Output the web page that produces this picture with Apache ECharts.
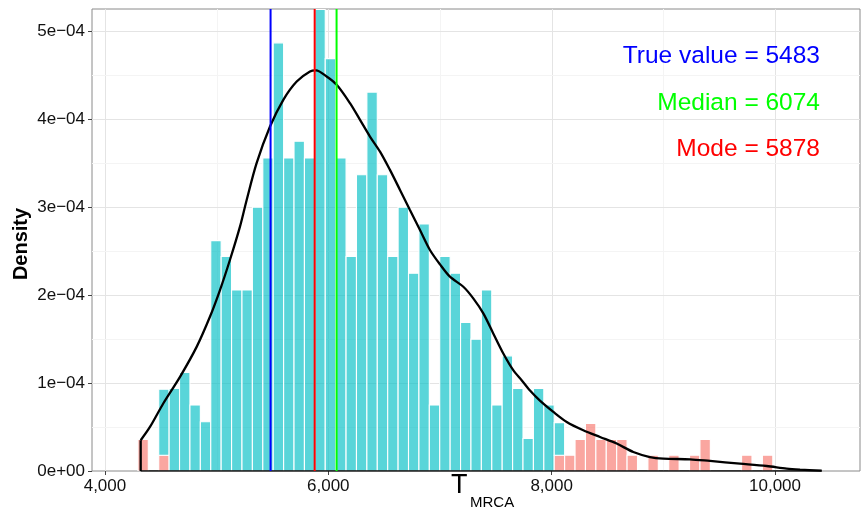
<!DOCTYPE html>
<html><head><meta charset="utf-8">
<script src="https://cdn.jsdelivr.net/npm/echarts@6/dist/echarts.min.js"></script>
<style>html,body{margin:0;padding:0;background:#fff}#c{width:862px;height:519px}</style>
</head><body><div id="c"></div>
<script>
// ---- data ----
const binStart = 4295;
const binWidth = 93.2;
// density of samples inside the interval (cyan), one value per bin
const insideDensity = [0,0,7.5e-5,9.4e-5,1.12e-4,7.5e-5,5.6e-5,2.62e-4,2.44e-4,2.06e-4,
  2.06e-4,3.0e-4,3.56e-4,4.87e-4,3.56e-4,3.75e-4,3.56e-4,5.25e-4,4.69e-4,3.56e-4,
  2.44e-4,3.37e-4,4.31e-4,3.37e-4,2.44e-4,3.0e-4,2.25e-4,2.81e-4,7.5e-5,2.44e-4,
  2.25e-4,1.69e-4,1.5e-4,2.06e-4,7.5e-5,1.31e-4,9.4e-5,3.7e-5,9.4e-5,7.5e-5,
  3.7e-5,0,0,0,0,0,0,0,0,0,0,0,0,0,0,0,0,0,0,0,0];
// density of samples outside the interval (pink), one value per bin
const outsideDensity = [3.6e-5,0,1.8e-5,0,0,0,0,0,0,0,
  0,0,0,0,0,0,0,0,0,0,
  0,0,0,0,0,0,0,0,0,0,
  0,0,0,0,0,0,0,0,0,0,
  1.8e-5,1.8e-5,3.6e-5,5.4e-5,3.6e-5,3.6e-5,3.6e-5,1.8e-5,0,1.8e-5,
  0,1.8e-5,0,1.8e-5,3.6e-5,0,0,0,1.8e-5,0,1.8e-5];
// kernel density curve
const densityX = [4320,4403,4522,4672,4821,4940,5030,5119,5209,5269,5358,5478,5597,5717,5836,5890,5985,6075,6194,6284,6373,6463,6552,6642,6731,6821,6910,7000,7089,7209,7298,7388,7477,7567,7656,7731,7806,7895,8015,8135,8283,8433,8582,8731,8880,9000,9239,9418,9686,9925,10104,10224,10418];
const densityY = [3.50e-5,5.01e-5,7.68e-5,1.071e-4,1.412e-4,1.754e-4,2.058e-4,2.400e-4,2.779e-4,3.083e-4,3.501e-4,3.918e-4,4.222e-4,4.430e-4,4.544e-4,4.556e-4,4.487e-4,4.393e-4,4.184e-4,3.994e-4,3.804e-4,3.633e-4,3.425e-4,3.197e-4,2.969e-4,2.741e-4,2.514e-4,2.35e-4,2.210e-4,2.096e-4,1.964e-4,1.793e-4,1.565e-4,1.337e-4,1.147e-4,1.033e-4,9.15e-5,8.0e-5,6.72e-5,5.58e-5,4.64e-5,3.87e-5,3.12e-5,2.16e-5,1.59e-5,1.41e-5,1.33e-5,1.14e-5,8.4e-6,5.7e-6,2.7e-6,1.6e-6,5e-7];
// reference values
const refNames = ['True value','Median','Mode'];
const refValues = [5483,6074,5878];
const refColors = ['#0000FF','#00FF00','#FF0000'];
// axes
const xMin = 3884, xMax = 10761, yMin = 0, yMax = 5.255e-4;
const xTicks = [4000,6000,8000,10000];
const xTickLabels = ['4,000','6,000','8,000','10,000'];
const xMinorGrid = [5000,7000,9000];
const yTicks = [0,1e-4,2e-4,3e-4,4e-4,5e-4];
const yTickLabels = ['0e+00','1e\u221204','2e\u221204','3e\u221204','4e\u221204','5e\u221204'];
const yMinorGrid = [0.5e-4,1.5e-4,2.5e-4,3.5e-4,4.5e-4];

// ---- build ----
const FONT = '"Liberation Sans", Arial, Helvetica, sans-serif';
const gridData = [];
xTicks.forEach(v => gridData.push([v, 0, 0]));
xMinorGrid.forEach(v => gridData.push([v, 0, 1]));
yTicks.forEach(v => gridData.push([xMin, v, 2]));
yMinorGrid.forEach(v => gridData.push([xMin, v, 3]));

const barData = [];
for (let k = 0; k < insideDensity.length; k++) {
  const x0 = binStart + k * binWidth, x1 = x0 + binWidth;
  const o = outsideDensity[k] || 0, i = insideDensity[k] || 0;
  if (o > 0) barData.push([x0, x1, 0, o, 1]);
  if (i > 0) barData.push([x0, x1, o, o + i, 0]);
}
const curve = densityX.map((x, j) => [x, densityY[j]]);

const chart = echarts.init(document.getElementById('c'), null, {renderer: 'canvas'});
const series = [
  {
    type: 'custom', z: 1, silent: true, clip: true,
    encode: {x: 0, y: 1},
    data: gridData,
    renderItem: function (params, api) {
      const cs = params.coordSys;
      const kind = api.value(2);
      const col = (kind === 0 || kind === 2) ? '#e4e4e4' : '#f4f4f4';
      if (kind < 2) {
        const px = Math.round(api.coord([api.value(0), 0])[0]) + 0.5;
        return {type: 'line', shape: {x1: px, y1: cs.y, x2: px, y2: cs.y + cs.height}, style: {stroke: col, lineWidth: 1}};
      }
      const py = Math.round(api.coord([xMin, api.value(1)])[1]) + 0.5;
      return {type: 'line', shape: {x1: cs.x, y1: py, x2: cs.x + cs.width, y2: py}, style: {stroke: col, lineWidth: 1}};
    }
  },
  {
    type: 'custom', z: 2, silent: true, clip: true,
    encode: {x: [0, 1], y: [2, 3]},
    data: barData,
    renderItem: function (params, api) {
      const p0 = api.coord([api.value(0), api.value(2)]);
      const p1 = api.coord([api.value(1), api.value(3)]);
      const fill = api.value(4) === 1 ? 'rgba(248,118,109,0.65)' : 'rgba(0,191,196,0.65)';
      return {type: 'rect', shape: {x: p0[0], y: p1[1], width: p1[0] - p0[0], height: p0[1] - p1[1]},
        style: {fill: fill, stroke: '#ffffff', lineWidth: 1.1}};
    }
  },
  {
    type: 'line', z: 3, silent: true, symbol: 'none', smooth: 0.3,
    data: curve, lineStyle: {color: '#000', width: 2.3}
  },
  {
    type: 'line', z: 3, silent: true, symbol: 'none',
    data: [[densityX[0], 0], [densityX[0], densityY[0]]], lineStyle: {color: '#000', width: 2.3}
  },
  {
    type: 'line', z: 3, silent: true, symbol: 'none',
    data: [[densityX[0], 0], [densityX[densityX.length - 1], 0]], lineStyle: {color: '#000', width: 1.6}
  }
];
refValues.forEach((v, j) => {
  series.push({type: 'line', z: 4, silent: true, symbol: 'none',
    data: [[v, yMin], [v, yMax]], lineStyle: {color: refColors[j], width: 2}});
});

const graphics = refNames.map((n, j) => ({
  type: 'text', right: 42, top: 44 + j * 46.6, z: 10,
  style: {text: n + ' = ' + refValues[j], fill: refColors[j], font: '24.5px ' + FONT}
}));
graphics.push({type: 'text', left: 451, top: 472, z: 10, style: {text: 'T', fill: '#000', font: '27px ' + FONT}});
graphics.push({type: 'text', left: 470, top: 495, z: 10, style: {text: 'MRCA', fill: '#000', font: '15px ' + FONT}});
graphics.push({type: 'text', x: 21, y: 244, rotation: Math.PI / 2, z: 10,
  style: {text: 'Density', fill: '#000', font: 'bold 20px ' + FONT, align: 'center', verticalAlign: 'middle'}});

chart.setOption({
  animation: false,
  backgroundColor: '#fff',
  grid: {left: 92, right: 2, top: 9, bottom: 48, outerBoundsMode: 'none', containLabel: false,
    show: true, borderColor: '#8a8a8a', borderWidth: 1, backgroundColor: 'transparent'},
  xAxis: {
    type: 'value', min: xMin, max: xMax,
    axisLine: {show: false},
    splitLine: {show: false},
    axisTick: {show: true, customValues: xTicks, length: 4, lineStyle: {color: '#444'}},
    axisLabel: {customValues: xTicks, margin: 7, color: '#111', fontSize: 17, fontFamily: FONT,
      formatter: v => xTickLabels[xTicks.indexOf(v)]}
  },
  yAxis: {
    type: 'value', min: yMin, max: yMax,
    axisLine: {show: false},
    splitLine: {show: false},
    axisTick: {show: true, customValues: yTicks, length: 4, lineStyle: {color: '#444'}},
    axisLabel: {customValues: yTicks, margin: 7, color: '#111', fontSize: 17, fontFamily: FONT,
      formatter: v => { let best = 0; yTicks.forEach((t, j) => { if (Math.abs(t - v) < Math.abs(yTicks[best] - v)) best = j; }); return yTickLabels[best]; }}
  },
  series: series,
  graphic: graphics
});
</script></body></html>
